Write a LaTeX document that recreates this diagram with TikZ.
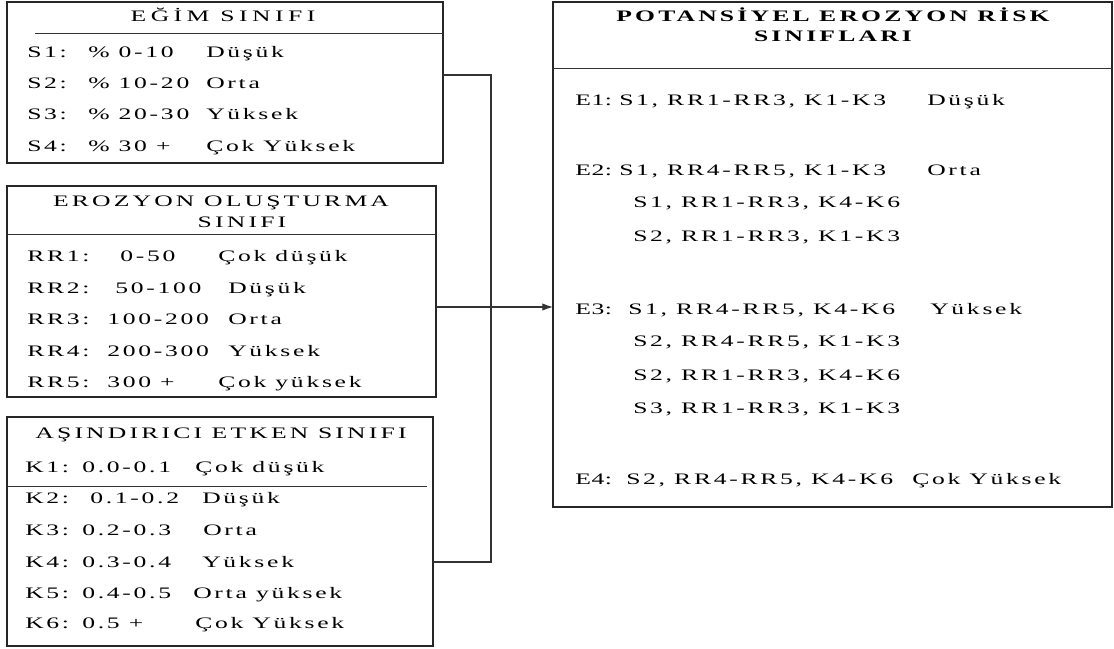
\documentclass[tikz,border=0pt]{standalone}
\usepackage{fontspec}
\setmainfont{Liberation Serif}[FakeStretch=1.6, LetterSpace=17]
\usetikzlibrary{arrows.meta, fit}

\begin{document}
\begin{tikzpicture}[x=0.75pt, y=-0.75pt, >={Latex[length=8pt, width=5.5pt]},
        box/.style={draw=black!85, line width=1.1pt, inner sep=0pt, outer sep=0pt},
        sep/.style={draw=black!80, line width=0.7pt},
        link/.style={draw=black!80, line width=0.8pt},
        cell/.style={anchor=base west, inner sep=0pt, font=\fontsize{12}{14}\selectfont},
        head/.style={anchor=base, inner sep=0pt, font=\fontsize{12}{14}\selectfont\addfontfeatures{LetterSpace=20}}]
    \useasboundingbox (0,0) rectangle (1114,649);

    % the four boxes
    \node[box, fit={(7,2) (443,163)}] (egim) {};
    \node[box, fit={(7,186) (436,397)}] (erozyon) {};
    \node[box, fit={(7,417) (433,646)}] (etken) {};
    \node[box, fit={(553,2) (1112,507)}] (risk) {};

    \draw[sep] (35,33) -- (egim.east |- 0,33);
    \draw[sep] (erozyon.west |- 0,234) -- (erozyon.east |- 0,234);
    \draw[sep] (etken.west |- 0,486) -- (427,486);
    \draw[sep] (risk.west |- 0,68) -- (risk.east |- 0,68);

    % titles
    \node[head] (t-egim) at (223,22) {\addfontfeatures{LetterSpace=28}EĞİM SINIFI};
    \node[head] (t-eroz1) at (221,207) {EROZYON OLUŞTURMA};
    \node[head] (t-eroz2) at (242,228) {SINIFI};
    \node[head] (t-etken) at (221,438) {AŞINDIRICI ETKEN SINIFI};
    \node[head, font=\fontsize{12}{14}\selectfont\bfseries\addfontfeatures{LetterSpace=20}] (t-risk1) at (833,22) {POTANSİYEL EROZYON RİSK};
    \node[head, font=\fontsize{12}{14}\selectfont\bfseries\addfontfeatures{LetterSpace=20}] (t-risk2) at (833,42) {SINIFLARI};

    % slope classes
    \foreach \y/\a/\b/\c [count=\i] in {58/S1:/\% 0-10/Düşük, 89/S2:/\% 10-20/Orta,
            120/S3:/\% 20-30/Yüksek, 152/S4:/\% 30 +/Çok Yüksek} {
        \node[cell] (s\i a) at (27,\y) {\a};
        \node[cell] (s\i b) at (88,\y) {\b};
        \node[cell] (s\i c) at (206,\y) {\c};
    }

    % erosivity classes
    \foreach \y/\a/\xb/\b/\xc/\c [count=\i] in {262/RR1:/120/0-50/218/Çok düşük,
            293/RR2:/115/50-100/228/Düşük, 324/RR3:/107/100-200/228/Orta,
            356/RR4:/107/200-300/228/Yüksek, 387/RR5:/107/300 +/218/Çok yüksek} {
        \node[cell] (rr\i a) at (27,\y) {\a};
        \node[cell] (rr\i b) at (\xb,\y) {\b};
        \node[cell] (rr\i c) at (\xc,\y) {\c};
    }

    % erodibility classes
    \foreach \y/\a/\xb/\b/\xc/\c [count=\i] in {472/K1:/82/0.0-0.1/195/Çok düşük,
            503/K2:/90/0.1-0.2/202/Düşük, 535/K3:/82/0.2-0.3/203/Orta,
            567/K4:/82/0.3-0.4/202/Yüksek, 598/K5:/82/0.4-0.5/193/Orta yüksek,
            628/K6:/82/0.5 +/195/Çok Yüksek} {
        \node[cell] (k\i a) at (25,\y) {\a};
        \node[cell] (k\i b) at (\xb,\y) {\b};
        \node[cell] (k\i c) at (\xc,\y) {\c};
    }

    % risk classes
    \foreach \y/\a/\c/\xc [count=\i] in {106/E1/Düşük/927, 176/E2/Orta/927,
            314/E3/Yüksek/930, 484/E4/Çok Yüksek/912} {
        \node[cell] (e\i a) at (575,\y) {\addfontfeatures{LetterSpace=4}\a:};
        \node[cell] (e\i c) at (\xc,\y) {\c};
    }
    \node[cell] (e1b) at (619,106) {S1, RR1-RR3, K1-K3};
    \node[cell] (e2b) at (619,176) {S1, RR4-RR5, K1-K3};
    \node[cell] (e2d) at (633,208) {S1, RR1-RR3, K4-K6};
    \node[cell] (e2e) at (633,242) {S2, RR1-RR3, K1-K3};
    \node[cell] (e3b) at (628,314) {S1, RR4-RR5, K4-K6};
    \node[cell] (e3d) at (633,346) {S2, RR4-RR5, K1-K3};
    \node[cell] (e3e) at (633,380) {S2, RR1-RR3, K4-K6};
    \node[cell] (e3f) at (633,413) {S3, RR1-RR3, K1-K3};
    \node[cell] (e4b) at (626,484) {S2, RR4-RR5, K4-K6};

    % connectors
    \coordinate (j1) at (491,75);
    \coordinate (j2) at (491,307);
    \coordinate (j3) at (491,562);
    \draw[link] (egim.east |- j1) -- (j1) -- (j3) -- (etken.east |- j3);
    \draw[link] (erozyon.east |- j2) -- (j2);
    \draw[link, ->] (j2) -- (risk.west |- j2);
\end{tikzpicture}
\end{document}
